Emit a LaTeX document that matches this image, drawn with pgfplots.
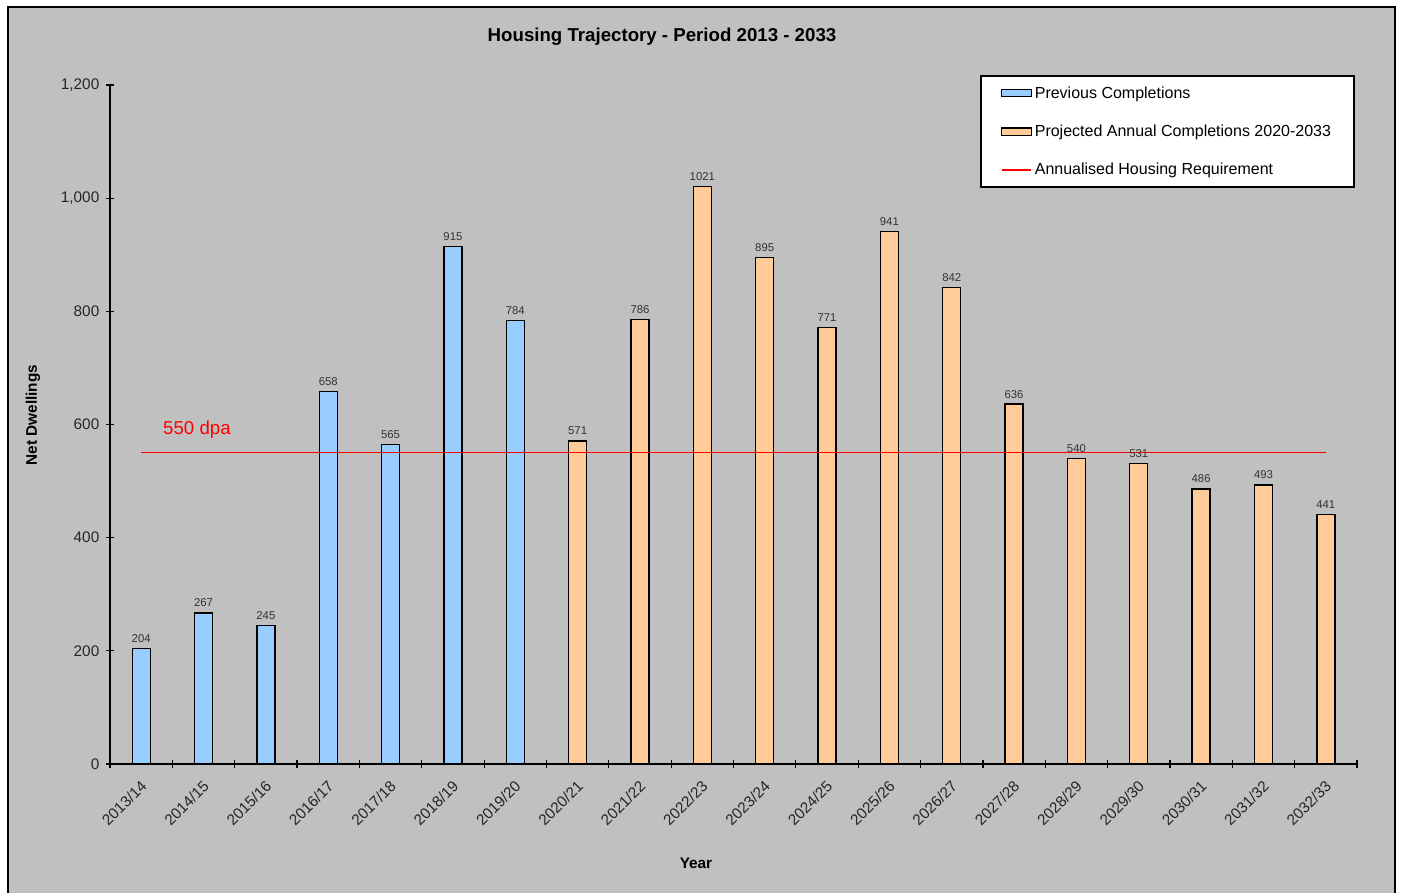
\documentclass[border=0pt]{standalone}
\usepackage{pgfplots}
\pgfplotsset{compat=1.18}
\usepackage{fontspec}
\setmainfont{Liberation Sans}
\definecolor{bg}{HTML}{C0C0C0}
\definecolor{prevblue}{HTML}{99CCFF}
\definecolor{projorange}{HTML}{FFCC99}
\definecolor{reqred}{HTML}{FF0000}
\begin{document}
\begin{tikzpicture}[x=1pt,y=1pt]
\useasboundingbox (0,0) rectangle (1050.75,669);
\clip (0,0) rectangle (1050.75,669);
\fill[white] (0,0) rectangle (1050.75,669);
\draw[line width=1.2pt, fill=bg] (6,-10) rectangle (1046.25,663.75);
\begin{axis}[
  at={(82.5pt,96pt)}, anchor=south west,
  scale only axis, width=935.25pt, height=509.25pt,
  xmin=-0.5, xmax=19.5, ymin=0, ymax=1200,
  axis x line*=bottom, axis y line*=left,
  axis line style={-, line width=0.9pt},
  xtick={0,...,19},
  xticklabels={2013/14,2014/15,2015/16,2016/17,2017/18,2018/19,2019/20,2020/21,2021/22,2022/23,2023/24,2024/25,2025/26,2026/27,2027/28,2028/29,2029/30,2030/31,2031/32,2032/33},
  major x tick style={draw=none},
  minor xtick={-0.5,0.5,...,19.5},
  minor x tick style={black, line width=0.9pt},
  xticklabel style={rotate=45, anchor=north east, font=\fontsize{11.5}{13}\selectfont, text=black!85, xshift=-3.5pt, yshift=-2pt},
  ytick={0,200,...,1200},
  yticklabel style={font=\fontsize{11.5}{13}\selectfont, text=black!85, xshift=-1.5pt},
  /pgf/number format/assume math mode=true,
  tick align=center, major tick length=6pt, minor tick length=6pt,
  major y tick style={black, line width=0.9pt},
  legend style={at={(0.6977,1.0147)}, anchor=north west, draw=black, line width=1.2pt, fill=white,
    font=\fontsize{12}{14}\selectfont, row sep=14.5pt, inner xsep=15pt, inner ysep=6pt},
  legend cell align=left,
  nodes near coords={\pgfmathprintnumber[1000 sep={}]{\pgfplotspointmeta}},
  nodes near coords style={font=\fontsize{8.5}{10}\selectfont, text=black!80, inner sep=4pt},
]
\addplot[ybar, bar width=13.5pt, bar shift=0pt, fill=prevblue, draw=black, line width=1pt,
  legend image code/.code={\draw[fill=prevblue, draw=black, line width=0.9pt] (0pt,-2.7pt) rectangle (22pt,2.7pt);}]
  coordinates {(0,204) (1,267) (2,245) (3,658) (4,565) (5,915) (6,784)};
\addlegendentry{Previous Completions}
\addplot[ybar, bar width=13.5pt, bar shift=0pt, fill=projorange, draw=black, line width=1pt,
  legend image code/.code={\draw[fill=projorange, draw=black, line width=0.9pt] (0pt,-2.7pt) rectangle (22pt,2.7pt);}]
  coordinates {(7,571) (8,786) (9,1021) (10,895) (11,771) (12,941) (13,842) (14,636) (15,540) (16,531) (17,486) (18,493) (19,441)};
\addlegendentry{Projected Annual Completions 2020-2033}
\addplot[color=reqred, line width=1pt, nodes near coords={},
  legend image code/.code={\draw[reqred, line width=1.5pt] (0pt,0pt) -- (22pt,0pt);}]
  coordinates {(0,550) (19,550)};
\addlegendentry{Annualised Housing Requirement}
\node[text=reqred, font=\fontsize{14}{16}\selectfont] at (axis cs:0.895,590) {550 dpa};
\end{axis}
\node[font=\bfseries\fontsize{14}{16}\selectfont] at (496.5,641.25) {Housing Trajectory - Period 2013 - 2033};
\node[font=\bfseries\fontsize{11.5}{13}\selectfont, rotate=90] at (24.75,357.75) {Net Dwellings};
\node[font=\bfseries\fontsize{11.5}{13}\selectfont] at (522,21.75) {Year};
\end{tikzpicture}
\end{document}
